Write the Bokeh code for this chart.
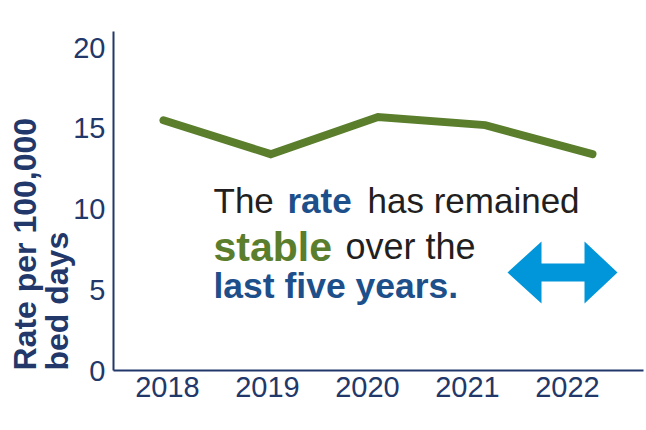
from bokeh.plotting import figure
from bokeh.models import Range1d, FixedTicker, Label, Title
from bokeh.embed import file_html
from bokeh.resources import INLINE

# ---- data ----
years = [2018, 2019, 2020, 2021, 2022]
rates = [15.5, 13.4, 15.7, 15.2, 13.4]
y_ticks = [0, 5, 10, 15, 20]
x_labels = {2018: "2018", 2019: "2019", 2020: "2020", 2021: "2021", 2022: "2022"}
y_title_lines = ["bed days", "Rate per 100,000"]  # inner line first

# ---- style ----
NAVY = "#22376a"
GREEN = "#5a7e2c"
BLUE = "#1d4f8b"
BLACK = "#231f20"
ARROW = "#0096d9"
FONT = "Liberation Sans"

W, H = 646, 430
LEFT, TOP, BOTTOM, RIGHT = 113, 31, 60, 3
FW = W - LEFT - RIGHT
FH = H - TOP - BOTTOM
X0, X1 = 2017.46, 2022.76
Y0, Y1 = 0, 21

p = figure(width=W, height=H, output_backend="svg", toolbar_location=None,
           x_range=Range1d(X0, X1), y_range=Range1d(Y0, Y1),
           min_border_left=LEFT, min_border_right=RIGHT,
           min_border_top=TOP, min_border_bottom=BOTTOM)
p.extra_x_ranges = {"line": Range1d(2017.534, 2022.476)}

p.outline_line_color = None
p.xgrid.visible = False
p.ygrid.visible = False
p.background_fill_color = "white"
p.border_fill_color = "white"

for ax in (p.xaxis, p.yaxis):
    ax.axis_line_color = NAVY
    ax.axis_line_width = 2
    ax.major_tick_line_color = None
    ax.minor_tick_line_color = None
    ax.major_tick_out = 0
    ax.major_tick_in = 0
    ax.major_label_text_color = NAVY
    ax.major_label_text_font = FONT
    ax.major_label_text_font_size = "29px"

p.xaxis.ticker = FixedTicker(ticks=years)
p.xaxis.major_label_overrides = x_labels
p.xaxis.major_label_standoff = 6
p.yaxis.ticker = FixedTicker(ticks=y_ticks)
p.yaxis.major_label_standoff = 8

p.line(years, rates, x_range_name="line", line_width=8, line_color=GREEN,
       line_cap="round", line_join="miter")


# pixel -> data helpers for text/decoration placement
def dx(px):
    return X0 + (px - LEFT) / FW * (X1 - X0)


def dy(py):
    return Y0 + (H - BOTTOM - py) / FH * (Y1 - Y0)


BASE_SHIFT = 12  # renderer places the alphabetic baseline lower than expected

# y-axis title: two stacked side-panel titles, bottom aligned
for txt, so in zip(y_title_lines, (-8, -4)):
    p.add_layout(Title(text=txt, align="left", vertical_align="bottom",
                       standoff=so, offset=0,
                       text_font=FONT, text_font_style="bold",
                       text_font_size="32px", text_color=NAVY), "left")

# annotation text
segments = [
    ("The", 213, 212, BLACK, "normal", "35px"),
    ("rate", 287, 212, BLUE, "bold", "35px"),
    ("has remained", 367, 212, BLACK, "normal", "35px"),
    ("stable", 213, 258, GREEN, "bold", "41px"),
    ("over the", 345, 258, BLACK, "normal", "36px"),
    ("last five years.", 213, 297, BLUE, "bold", "35.5px"),
]
for txt, px, py, col, sty, size in segments:
    p.add_layout(Label(x=dx(px), y=dy(py - BASE_SHIFT), text=txt, text_align="left",
                       text_baseline="alphabetic", text_font=FONT,
                       text_font_style=sty, text_font_size=size, text_color=col))

# double-headed arrow icon (decoration)
arrow_px = [(507, 272), (541, 241), (541, 263), (584, 263), (584, 241),
            (617, 272), (584, 303), (584, 281), (541, 281), (541, 303)]
p.patch([dx(a) for a, b in arrow_px], [dy(b) for a, b in arrow_px],
        fill_color=ARROW, line_color=None)

open("out.html", "w").write(file_html(p, INLINE))
